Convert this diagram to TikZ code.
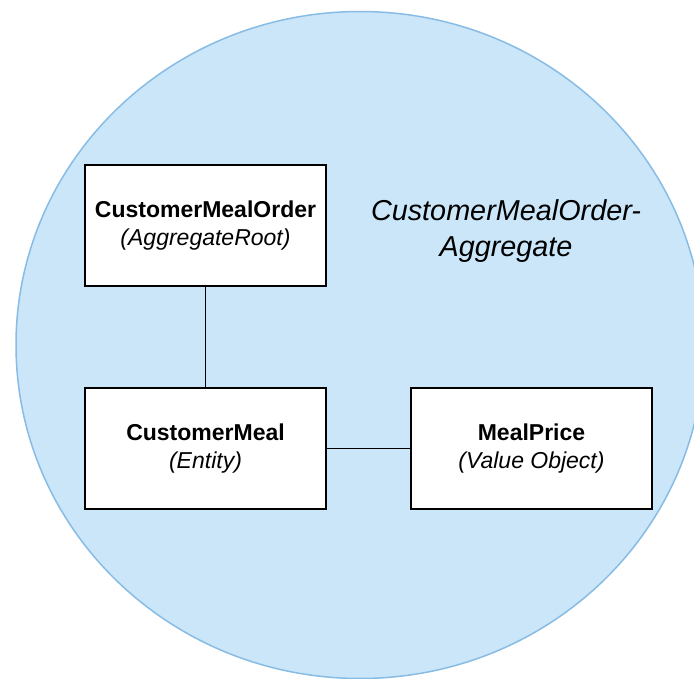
\documentclass[tikz,border=0pt]{standalone}
\usepackage{fontspec}
\setmainfont{Liberation Sans}
\begin{document}
\begin{tikzpicture}[x=1pt,y=-1pt,
  classbox/.style={draw=black,line width=1.5pt,fill=white,minimum width=241pt,minimum height=121pt,inner sep=0pt,align=center,
    font=\fontsize{23}{28.5}\selectfont},
  link/.style={draw=black,line width=1.5pt}]
\useasboundingbox (0,0) rectangle (694,679);
\begin{scope}
\clip (0,0) rectangle (694,679);
\fill[fill={rgb,255:red,202;green,230;blue,248},draw={rgb,255:red,136;green,188;blue,228},line width=1.5pt]
  (360,345) ellipse [x radius=344, y radius=333.5];
\end{scope}
\node[font=\fontsize{28.8}{36}\selectfont\itshape,align=center] (title) at (506,231.5) {CustomerMealOrder-\\Aggregate};
\node[classbox] (order) at (205.5,225.5) {\textbf{CustomerMealOrder}\\\textit{(AggregateRoot)}};
\node[classbox] (meal) at (205.5,448.5) {\textbf{CustomerMeal}\\\textit{(Entity)}};
\node[classbox] (price) at (531.5,448.5) {\textbf{MealPrice}\\\textit{(Value Object)}};
\draw[link] (order) -- (meal);
\draw[link] (meal) -- (price);
\end{tikzpicture}
\end{document}
